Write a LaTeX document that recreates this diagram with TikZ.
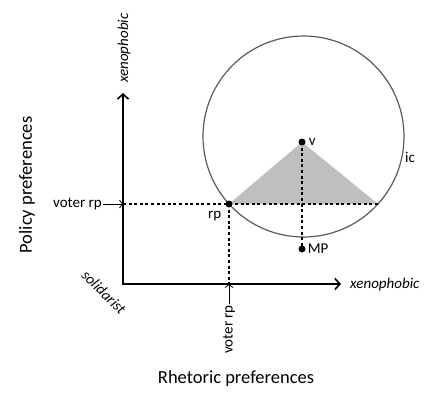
\documentclass[tikz,border=0pt]{standalone}
\usepackage{fontspec}
\setmainfont{Carlito}
\usetikzlibrary{arrows.meta,positioning,calc}
\usepackage{xcolor}
\definecolor{Shade}{HTML}{BFBFBF}
\definecolor{Rim}{HTML}{5A5A5A}

\begin{document}
\begin{tikzpicture}[
        %Environment Cfg.
        x=1pt, y=-1pt,
        >={Straight Barb[length=5pt,width=11pt]},%from arrows.meta
        %Environment Styles.
        axis/.style={<->, line width=1.6pt},
        guide/.style={line width=1.3pt, dash pattern=on 3pt off 2.6pt},
        dot/.style={
            circle,
            fill=black,
            inner sep=0pt,
            minimum size=7pt
        },
        lbl/.style={font=\fontsize{15}{18}\selectfont, inner sep=1pt},
        ital/.style={font=\fontsize{15}{18}\selectfont\itshape, inner sep=1pt},
        ttl/.style={font=\fontsize{18.5}{22}\selectfont, inner sep=1pt},
        pointer/.style={->, line width=0.8pt, >={Straight Barb[length=3pt,width=8pt]}},
    ]
    \useasboundingbox (0,0) rectangle (428,392);

    %Key points of the picture.
    \coordinate (yTip) at (123,93);
    \coordinate (xTip) at (341,284);
    \coordinate (yRP) at (123,204);
    \coordinate (xRP) at (229,284);
    \coordinate (base) at (378,204);
    \coordinate (ctr) at (303.5,136.5);

    %Shaded wedge first, so it stays behind.
    \fill[Shade] (229,204) -- (302,142) -- (base) -- cycle;
    \draw[Rim, line width=1.2pt] (ctr) circle[radius=100.5];

    \node[dot] (RP) at (229,204) {};
    \node[dot] (V) at (302,142) {};
    \node[dot] (MP) at (302,249) {};

    %Axes.
    \draw[axis] (yTip) |- (xTip);

    %Dashed guides.
    \draw[guide] (yRP) -- (base);
    \draw[guide] (RP.center) -- (xRP);
    \draw[guide] (V.center) -- (MP.center);

    %Point labels.
    \node[lbl, below left=3pt and 4pt of RP] (rpL) {rp};
    \node[lbl, right=2pt of V] (vL) {v};
    \node[lbl, right=1pt of MP] (mpL) {MP};
    \node[lbl] (icL) at (410,157) {ic};

    %Voter position on both axes.
    \node[lbl, anchor=east] (vrpY) at (103,204) {voter rp};
    \draw[pointer] (vrpY) -- (yRP);
    \node[lbl, rotate=90, anchor=east] (vrpX) at (229,304) {voter rp};
    \draw[pointer] (vrpX) -- (xRP);

    %Axis ends.
    \node[ital, rotate=90, anchor=west] (yEnd) at (124,84) {xenophobic};
    \node[ital, anchor=west] (xEnd) at (349,284) {xenophobic};
    \node[ital, rotate=-45] (orig) at (104,292) {solidarist};

    %Axis titles.
    \node[ttl, rotate=90] (yTtl) at (27,185) {Policy preferences};
    \node[ttl] (xTtl) at (236,379) {Rhetoric preferences};

\end{tikzpicture}
\end{document}
